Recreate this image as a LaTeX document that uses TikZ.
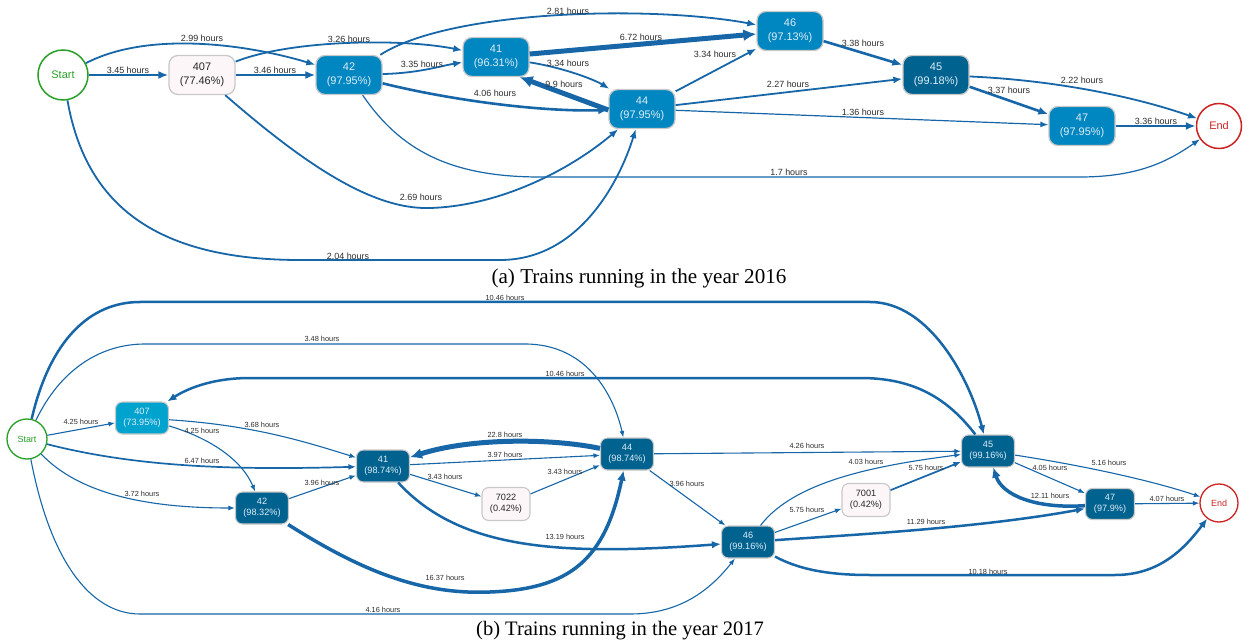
\documentclass[tikz,border=0pt]{standalone}
\usepackage{fontspec}
\setmainfont{Liberation Serif}
\setsansfont{Liberation Sans}
\usetikzlibrary{arrows.meta}
\definecolor{ec}{RGB}{22,102,168}
\definecolor{midb}{RGB}{0,134,192}
\definecolor{darkb}{RGB}{0,98,143}
\definecolor{lightb}{RGB}{0,162,206}
\definecolor{pinkw}{RGB}{253,246,249}
\definecolor{bord}{RGB}{200,200,200}
\definecolor{gstart}{RGB}{40,160,40}
\definecolor{rend}{RGB}{205,35,35}
\definecolor{ntext}{RGB}{225,238,248}
\definecolor{ltext}{RGB}{45,45,45}
\begin{document}
\begin{tikzpicture}[x=1bp,y=-1bp,
 boxA/.style={draw=bord, line width=1.3bp, rounded corners=9bp, minimum width=66bp, minimum height=39bp, align=center, font=\sffamily\fontsize{11}{13.5}\selectfont, inner sep=0pt, text=ntext},
 boxB/.style={draw=bord, line width=1.1bp, rounded corners=7bp, minimum width=53bp, minimum height=32bp, align=center, font=\sffamily\fontsize{9.2}{11.3}\selectfont, inner sep=0pt, text=ntext},
 startA/.style={circle, draw=gstart, line width=1.5bp, minimum size=50bp, inner sep=0pt, text=gstart, fill=white, font=\sffamily\fontsize{11}{13}\selectfont},
 endA/.style={circle, draw=rend, line width=1.5bp, minimum size=45bp, inner sep=0pt, text=rend, fill=white, font=\sffamily\fontsize{11}{13}\selectfont},
 startB/.style={circle, draw=gstart, line width=1.3bp, minimum size=40bp, inner sep=0pt, text=gstart, fill=white, font=\sffamily\fontsize{9}{11}\selectfont},
 endB/.style={circle, draw=rend, line width=1.3bp, minimum size=38bp, inner sep=0pt, text=rend, fill=white, font=\sffamily\fontsize{9}{11}\selectfont},
 e1/.style={draw=ec, line width=1.2bp, -{Latex[length=8bp,width=6bp]}},
 e2/.style={draw=ec, line width=1.8bp, -{Latex[length=9bp,width=7bp]}},
 e3/.style={draw=ec, line width=2.6bp, -{Latex[length=10bp,width=8bp]}},
 e5/.style={draw=ec, line width=5bp, -{Latex[length=13bp,width=12bp]}},
 f1/.style={draw=ec, line width=1.1bp, -{Latex[length=6.5bp,width=5bp]}},
 f2/.style={draw=ec, line width=1.7bp, -{Latex[length=7.5bp,width=6bp]}},
 f3/.style={draw=ec, line width=2.5bp, -{Latex[length=9bp,width=7.5bp]}},
 f4/.style={draw=ec, line width=3.5bp, -{Latex[length=10bp,width=9bp]}},
 f5/.style={draw=ec, line width=5bp, -{Latex[length=12bp,width=11bp]}},
 lblA/.style={font=\sffamily\fontsize{9}{10}\selectfont, text=ltext, inner sep=0.5bp},
 lblB/.style={font=\sffamily\fontsize{7.4}{8.5}\selectfont, text=ltext, inner sep=0.5bp},
 captxt/.style={font=\rmfamily\fontsize{21.2}{25}\selectfont, text=black, inner sep=0pt}
]
\useasboundingbox[fill=white] (0,0) rectangle (1249,644);

% ---------------- (a) 2016 ----------------
\node[startA] (S1) at (63,75) {Start};
\node[boxA, fill=pinkw, text=black!85] (a407) at (202,75) {407\\(77.46\%)};
\node[boxA, fill=midb] (a42) at (349,75) {42\\(97.95\%)};
\node[boxA, fill=midb] (a41) at (496,57) {41\\(96.31\%)};
\node[boxA, fill=midb] (a46) at (790,31) {46\\(97.13\%)};
\node[boxA, fill=midb] (a44) at (642,109) {44\\(97.95\%)};
\node[boxA, fill=darkb] (a45) at (936,75) {45\\(99.18\%)};
\node[boxA, fill=midb] (a47) at (1082,126) {47\\(97.95\%)};
\node[endA] (E1) at (1219,126) {End};

\draw[e2] (S1) .. controls (150,30) and (250,45) .. (a42);
\draw[e3] (S1) -- (a407);
\draw[e3] (a407) -- (a42);
\draw[e2] (a407) .. controls (290,40) and (400,38) .. (a41);
\draw[e2] (a42) .. controls (420,73) and (440,66) .. (a41);
\draw[e2] (a42) .. controls (450,10) and (650,5) .. (a46);
\draw[e3] (a42) .. controls (450,100) and (540,112) .. (a44);
\draw[e1] (a42) .. controls (400,150) and (450,177) .. (540,177) -- (1080,177) .. controls (1140,177) and (1170,160) .. (E1);
\draw[e5] (a41) -- (a46);
\draw[e2] (a41) .. controls (565,68) and (595,80) .. (a44);
\draw[e5] ([yshift=-1bp]a44.west) -- ([xshift=-10bp]a41.south east);
\draw[e2] (a44) -- (a46);
\draw[e2] (a44) -- (a45);
\draw[e1] (a44) -- (a47);
\draw[e3] (a46) -- (a45);
\draw[e2] (a45) .. controls (1050,80) and (1130,95) .. (E1);
\draw[e3] (a45) -- (a47);
\draw[e3] (a47) -- (E1);
\draw[e2] (a407) .. controls (300,160) and (370,210) .. (430,208) .. controls (500,206) and (570,170) .. (a44);
\draw[e2] (S1) .. controls (85,200) and (150,260) .. (300,260) -- (500,260) .. controls (580,260) and (620,180) .. (a44);

\node[lblA] (la1) at (202,38) {2.99 hours};
\node[lblA] (la2) at (128,70) {3.45 hours};
\node[lblA] (la3) at (275,70) {3.46 hours};
\node[lblA] (la4) at (349,39) {3.26 hours};
\node[lblA] (la5) at (422,64) {3.35 hours};
\node[lblA] (la6) at (568,11) {2.81 hours};
\node[lblA] (la7) at (495,93) {4.06 hours};
\node[lblA] (la8) at (789,172) {1.7 hours};
\node[lblA] (la9) at (641,37) {6.72 hours};
\node[lblA] (la10) at (568,63) {3.34 hours};
\node[lblA] (la11) at (564,84.5) {9.9 hours};
\node[lblA] (la12) at (715,54) {3.34 hours};
\node[lblA] (la13) at (788,84) {2.27 hours};
\node[lblA] (la14) at (863,112) {1.36 hours};
\node[lblA] (la15) at (863,43) {3.38 hours};
\node[lblA] (la16) at (1082,80) {2.22 hours};
\node[lblA] (la17) at (1009,90) {3.37 hours};
\node[lblA] (la18) at (1156,121) {3.36 hours};
\node[lblA] (la19) at (421,197) {2.69 hours};
\node[lblA] (la20) at (348,256) {2.04 hours};

\node[captxt] (capA) at (639,278) {(a) Trains running in the year 2016};

% ---------------- (b) 2017 ----------------
\node[startB] (S2) at (27,439) {Start};
\node[boxB, fill=lightb] (b407) at (142,418) {407\\(73.95\%)};
\node[boxB, fill=darkb] (b42) at (262,508) {42\\(98.32\%)};
\node[boxB, fill=darkb] (b41) at (383,466) {41\\(98.74\%)};
\node[boxB, fill=pinkw, text=black!85, minimum width=48bp, minimum height=33bp] (b7022) at (506,504) {7022\\(0.42\%)};
\node[boxB, fill=darkb] (b44) at (627,454) {44\\(98.74\%)};
\node[boxB, fill=darkb] (b46) at (748,542) {46\\(99.16\%)};
\node[boxB, fill=pinkw, text=black!85, minimum width=48bp, minimum height=33bp] (b7001) at (866,500) {7001\\(0.42\%)};
\node[boxB, fill=darkb] (b45) at (988,451) {45\\(99.16\%)};
\node[boxB, fill=darkb, minimum width=49bp, minimum height=31bp] (b47) at (1110,504) {47\\(97.9\%)};
\node[endB] (E2) at (1219,503) {End};

\draw[f3] (S2) .. controls (50,340) and (90,302) .. (140,302) -- (870,302) .. controls (930,302) and (970,380) .. (b45);
\draw[f1] (S2) .. controls (60,370) and (100,344) .. (145,344) -- (525,344) .. controls (590,344) and (615,400) .. (b44);
\draw[f3] (b45) .. controls (945,395) and (910,378) .. (860,378) -- (250,378) .. controls (210,378) and (185,390) .. (b407);
\draw[f1] (S2) -- (b407);
\draw[f1] (b407) .. controls (210,438) and (242,460) .. (b42);
\draw[f1] (b407) .. controls (250,425) and (300,440) .. (b41);
\draw[f2] (S2) .. controls (140,468) and (240,470) .. (b41);
\draw[f1] (S2) .. controls (80,495) and (150,508) .. (b42);
\draw[f1] (b42) -- (b41);
\draw[f4] (b42) .. controls (360,570) and (420,595) .. (490,592) .. controls (570,589) and (605,560) .. (b44);
\draw[f5] (b44) .. controls (550,438) and (470,438) .. (b41);
\draw[f1] (b41) -- (b44);
\draw[f1] (b41) -- (b7022);
\draw[f1] (b7022) -- (b44);
\draw[f3] (b41) .. controls (460,550) and (560,556) .. (b46);
\draw[f1] (S2) .. controls (50,560) and (90,614) .. (140,614) -- (630,614) .. controls (680,614) and (710,590) .. (b46);
\draw[f1] (b44) -- (b45);
\draw[f1] (b44) -- (b46);
\draw[f1] (b46) .. controls (795,480) and (880,465) .. (b45);
\draw[f1] (b46) -- (b7001);
\draw[f2] (b7001) -- (b45);
\draw[f3] (b46) .. controls (850,535) and (980,528) .. (b47);
\draw[f3] (b46) .. controls (800,570) and (830,575) .. (870,575) -- (1115,575) .. controls (1160,575) and (1185,548) .. (E2);
\draw[f1] (b45) -- (b47);
\draw[f4] (b47) .. controls (1035,509) and (1002,495) .. (b45);
\draw[f1] (b45) .. controls (1080,465) and (1150,480) .. (E2);
\draw[f1] (b47) -- (E2);

\node[lblB] (lb1) at (505,298) {10.46 hours};
\node[lblB] (lb2) at (322,339) {3.48 hours};
\node[lblB] (lb3) at (565,374) {10.46 hours};
\node[lblB] (lb4) at (81,422) {4.25 hours};
\node[lblB] (lb5) at (202,431) {4.25 hours};
\node[lblB] (lb6) at (262,425) {3.68 hours};
\node[lblB] (lb7) at (202,461) {6.47 hours};
\node[lblB] (lb8) at (142,494) {3.72 hours};
\node[lblB] (lb9) at (322,483) {3.96 hours};
\node[lblB] (lb10) at (445,578) {16.37 hours};
\node[lblB] (lb11) at (505,435) {22.8 hours};
\node[lblB] (lb12) at (505,455) {3.97 hours};
\node[lblB] (lb13) at (445,477) {3.43 hours};
\node[lblB] (lb14) at (565,472) {3.43 hours};
\node[lblB] (lb15) at (565,537) {13.19 hours};
\node[lblB] (lb16) at (383,610) {4.16 hours};
\node[lblB] (lb17) at (807,446) {4.26 hours};
\node[lblB] (lb18) at (687,484) {3.96 hours};
\node[lblB] (lb19) at (866,462) {4.03 hours};
\node[lblB] (lb20) at (807,510) {5.75 hours};
\node[lblB] (lb21) at (926,468) {5.75 hours};
\node[lblB] (lb22) at (926,522) {11.29 hours};
\node[lblB] (lb23) at (988,572) {10.18 hours};
\node[lblB] (lb24) at (1050,468) {4.05 hours};
\node[lblB] (lb25) at (1050,496) {12.11 hours};
\node[lblB] (lb26) at (1109,463) {5.16 hours};
\node[lblB] (lb27) at (1167,499) {4.07 hours};

\node[captxt, font=\rmfamily\fontsize{20.6}{25}\selectfont] (capB) at (620,631) {(b) Trains running in the year 2017};
\end{tikzpicture}
\end{document}
